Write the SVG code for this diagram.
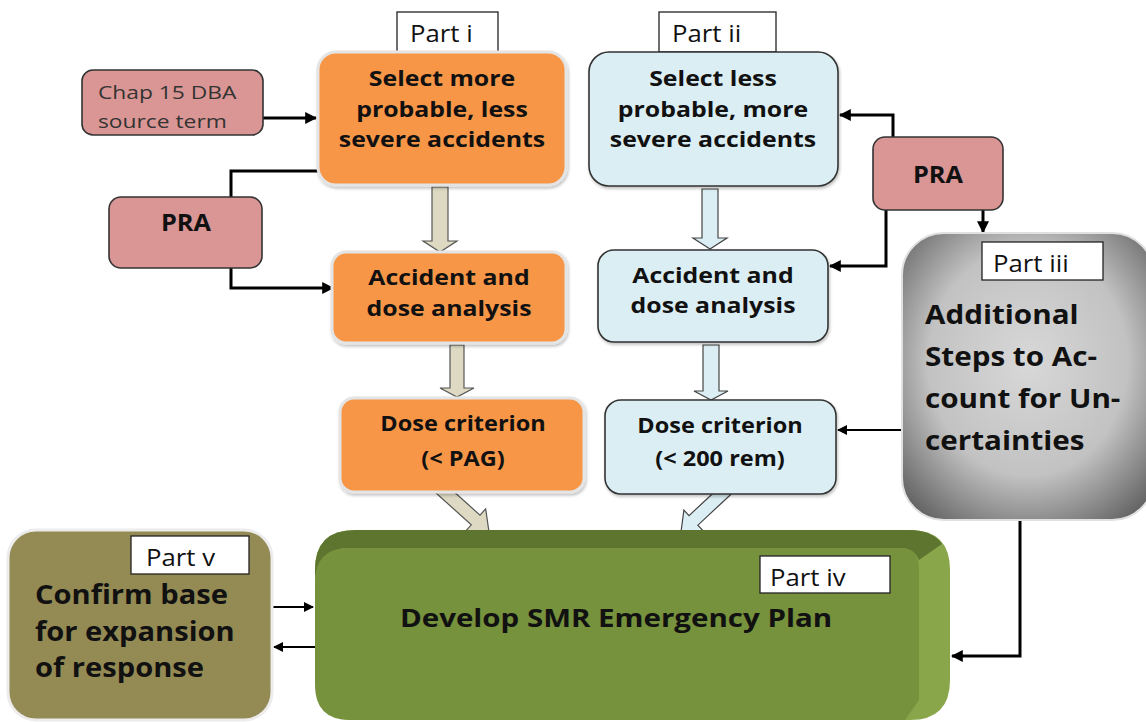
<svg xmlns="http://www.w3.org/2000/svg" width="1146" height="722" viewBox="0 0 1146 722">
<defs>
<style>
text{font-family:"Open Sans",Lato,"Liberation Sans",sans-serif;fill:#111}
.t{font-weight:bold;text-anchor:middle}
.tl{font-weight:bold}
.p{font-size:23px}
.lab{fill:#fff;stroke:#222;stroke-width:1.3}
.or{fill:#F79646;stroke:#e4e4e4;stroke-width:3}
.bl{fill:#DBEEF3;stroke:#333;stroke-width:1.6}
.pr{fill:#D99694;stroke:#333;stroke-width:1.6}
.c{fill:none;stroke:#000;stroke-width:3}
.c2{fill:none;stroke:#000;stroke-width:2}
.ba{fill:#DDD9C3;stroke:#555;stroke-width:1.2}
.bb{fill:#DBEEF3;stroke:#444;stroke-width:1.2}
</style>
<marker id="ah" viewBox="0 0 10 10" refX="9" refY="5" markerWidth="4" markerHeight="4" orient="auto" markerUnits="strokeWidth">
<path d="M0,0 L10,5 L0,10 z" fill="#000"/>
</marker>
<marker id="ah2" viewBox="0 0 10 10" refX="9" refY="5" markerWidth="5" markerHeight="5" orient="auto" markerUnits="strokeWidth">
<path d="M0,0 L10,5 L0,10 z" fill="#000"/>
</marker>
<radialGradient id="gg" cx="0.5" cy="0.45" r="0.72">
<stop offset="0" stop-color="#d8d8d8"/>
<stop offset="0.55" stop-color="#c2c2c2"/>
<stop offset="1" stop-color="#555"/>
</radialGradient>
<filter id="sh" x="-5%" y="-5%" width="110%" height="115%">
<feDropShadow dx="1" dy="2" stdDeviation="1.5" flood-color="#000" flood-opacity="0.25"/>
</filter>
</defs>
<rect width="1146" height="722" fill="#fff"/>

<g id="connectors">
<path class="c" d="M263,118 H316" marker-end="url(#ah)"/>
<path class="c" d="M231,197 V171 H330" marker-end="url(#ah)"/>
<path class="c" d="M231,268 V288 H333" marker-end="url(#ah)"/>
<path class="c" d="M893,137 V115 H840" marker-end="url(#ah)"/>
<path class="c" d="M886,210 V266 H830" marker-end="url(#ah)"/>
<path class="c" d="M983,210 V232" marker-end="url(#ah)"/>
<path class="c2" d="M902,430 H838" marker-end="url(#ah2)"/>
<path class="c" d="M1020,520 V656 H952" marker-end="url(#ah)"/>
<path class="c2" d="M272,607 H313" marker-end="url(#ah2)"/>
<path class="c2" d="M315,647 H274" marker-end="url(#ah2)"/>
<path class="ba" d="M432,187 H448 V241 H457 L440,252 L423,241 H432 Z"/>
<path class="ba" d="M450,345 H464 V388 H474 L457,397 L440,388 H450 Z"/>
<path class="ba" transform="translate(489,532) rotate(42)" d="M-66,-6.5 H-18 V-15 L0,0 L-18,15 V6.5 H-66 Z"/>
<path class="bb" d="M702,189 H718 V238 H727 L710,249 L693,238 H702 Z"/>
<path class="bb" d="M703,345 H719 V391 H728 L711,400 L694,391 H703 Z"/>
<path class="bb" transform="translate(681,532) rotate(137)" d="M-62,-6.5 H-17 V-14 L0,0 L-17,14 V6.5 H-62 Z"/>
</g>

<g id="chap15">
<rect class="pr" x="82" y="70" width="181" height="65" rx="11"/>
<g transform="translate(98,0) scale(1.2,1)">
<text x="0" y="99" font-size="19" style="fill:#333">Chap 15 DBA</text>
<text x="0" y="128" font-size="19" style="fill:#333">source term</text>
</g>
</g>

<g id="pra-left">
<rect class="pr" x="109" y="197" width="153" height="71" rx="12"/>
<g transform="translate(186,231) scale(1.1,1)"><text class="t" x="0" y="0" font-size="23">PRA</text></g>
</g>

<g id="part-i">
<rect class="lab" x="397" y="12" width="101" height="40"/>
<g transform="translate(410,42) scale(1.12,1)"><text class="p" x="0" y="0">Part i</text></g>
</g>
<g id="select-more">
<rect class="or" x="318" y="52" width="248" height="133" rx="18" filter="url(#sh)"/>
<g transform="translate(442,0) scale(1.13,1)">
<text class="t" x="0" y="86" font-size="22">Select more</text>
<text class="t" x="0" y="117" font-size="22">probable, less</text>
<text class="t" x="0" y="147" font-size="22">severe accidents</text>
</g>
</g>

<g id="part-ii">
<rect class="lab" x="659" y="12" width="117" height="40"/>
<g transform="translate(672,42) scale(1.12,1)"><text class="p" x="0" y="0">Part ii</text></g>
</g>
<g id="select-less">
<rect class="bl" x="589" y="52" width="249" height="134" rx="20" filter="url(#sh)"/>
<g transform="translate(713,0) scale(1.13,1)">
<text class="t" x="0" y="86" font-size="22">Select less</text>
<text class="t" x="0" y="117" font-size="22">probable, more</text>
<text class="t" x="0" y="147" font-size="22">severe accidents</text>
</g>
</g>

<g id="pra-right">
<rect class="pr" x="873" y="137" width="130" height="73" rx="12"/>
<g transform="translate(938,183) scale(1.1,1)"><text class="t" x="0" y="0" font-size="23">PRA</text></g>
</g>

<g id="analysis-i">
<rect class="or" x="332" y="252" width="234" height="91" rx="14" filter="url(#sh)"/>
<g transform="translate(449,0) scale(1.13,1)">
<text class="t" x="0" y="285" font-size="22">Accident and</text>
<text class="t" x="0" y="316" font-size="22">dose analysis</text>
</g>
</g>

<g id="analysis-ii">
<rect class="bl" x="598" y="250" width="230" height="92" rx="16" filter="url(#sh)"/>
<g transform="translate(713,0) scale(1.13,1)">
<text class="t" x="0" y="283" font-size="22">Accident and</text>
<text class="t" x="0" y="313" font-size="22">dose analysis</text>
</g>
</g>

<g id="additional">
<rect x="902" y="233" width="252" height="287" rx="42" fill="url(#gg)" stroke="#e0e0e0" stroke-width="2"/>
<rect class="lab" x="982" y="242" width="121" height="38"/>
<g transform="translate(993,272) scale(1.12,1)"><text class="p" x="0" y="0">Part iii</text></g>
<g transform="translate(925,0) scale(1.14,1)">
<text class="tl" x="0" y="324" font-size="26">Additional</text>
<text class="tl" x="0" y="366" font-size="26">Steps to Ac-</text>
<text class="tl" x="0" y="408" font-size="26">count for Un-</text>
<text class="tl" x="0" y="450" font-size="26">certainties</text>
</g>
</g>

<g id="criterion-i">
<rect class="or" x="340" y="398" width="244" height="94" rx="14" filter="url(#sh)"/>
<g transform="translate(463,0) scale(1.12,1)">
<text class="t" x="0" y="431" font-size="21">Dose criterion</text>
<text class="t" x="0" y="466" font-size="21">(&lt; PAG)</text>
</g>
</g>

<g id="criterion-ii">
<rect class="bl" x="605" y="400" width="231" height="94" rx="16" filter="url(#sh)"/>
<g transform="translate(720,0) scale(1.12,1)">
<text class="t" x="0" y="433" font-size="21">Dose criterion</text>
<text class="t" x="0" y="466" font-size="21">(&lt; 200 rem)</text>
</g>
</g>

<g id="emergency-plan">
<path d="M355,530 H910 Q950,530 950,570 V680 Q950,720 910,720 H355 Q315,720 315,680 V570 Q315,530 355,530 Z" fill="#8AA64B"/>
<path d="M355,530 H910 Q932,530 942,544 L919,560 Q914,548 900,548 H350 Q315,548 315,583 V570 Q315,530 355,530 Z" fill="#5E752F"/>
<path d="M350,548 H900 Q919,548 919,568 V700 L905,720 H350 Q315,720 315,685 V583 Q315,548 350,548 Z" fill="#77923C"/>
<rect class="lab" x="760" y="556" width="130" height="37"/>
<g transform="translate(770,586) scale(1.12,1)"><text class="p" x="0" y="0">Part iv</text></g>
<g transform="translate(616,627) scale(1.18,1)"><text class="t" x="0" y="0" font-size="25">Develop SMR Emergency Plan</text></g>
</g>

<g id="expansion">
<rect x="8" y="530" width="264" height="190" rx="28" fill="#948A54" stroke="#ececec" stroke-width="3"/>
<rect class="lab" x="131" y="536" width="118" height="38"/>
<g transform="translate(146,566) scale(1.12,1)"><text class="p" x="0" y="0">Part v</text></g>
<g transform="translate(35,0) scale(1.12,1)">
<text class="tl" x="0" y="604" font-size="26">Confirm base</text>
<text class="tl" x="0" y="641" font-size="26">for expansion</text>
<text class="tl" x="0" y="677" font-size="26">of response</text>
</g>
</g>
</svg>
